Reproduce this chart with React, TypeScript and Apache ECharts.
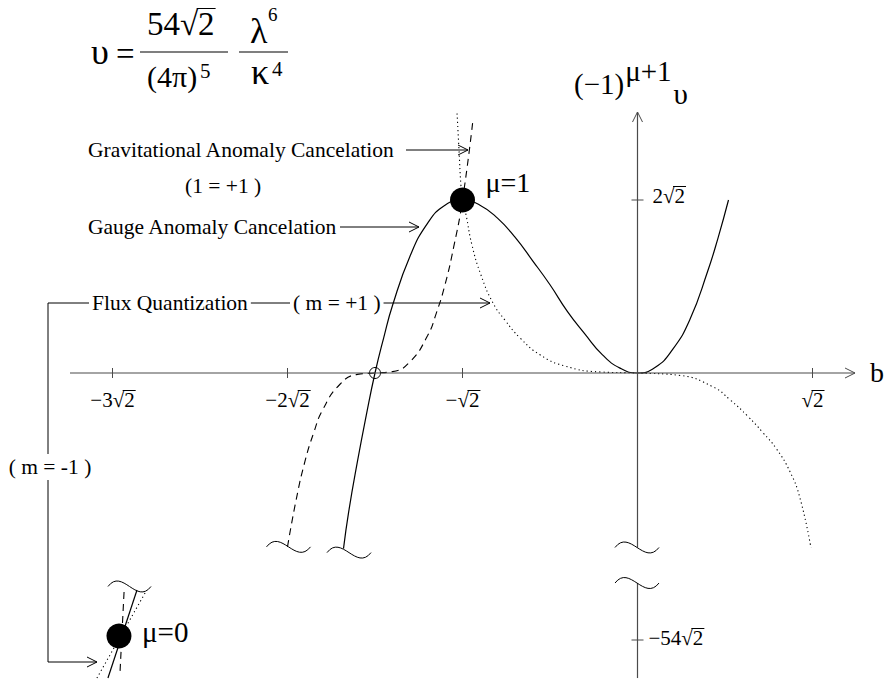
import React, { useEffect, useRef } from "react";
import * as echarts from "echarts";

// ---- data (u = b/√2, w = υ/√2) ----
const xTicks = [-3, -2, -1, 1];
const xTickLabels = ["−3√2", "−2√2", "−√2", "√2"];
const yTicks = [2];
const yTickLabels = ["2√2"];
const lowerTicks = [-54];
const lowerTickLabels = ["−54√2"];

const solidCurve = [
  [-1.68, -2.03], [-1.65, -1.6], [-1.6, -1.02], [-1.55, -0.49], [-1.5, 0], [-1.45, 0.41],
  [-1.4, 0.78], [-1.3, 1.35], [-1.2, 1.73], [-1.1, 1.94], [-1.0, 2.0], [-0.9, 1.94],
  [-0.8, 1.79], [-0.7, 1.57], [-0.6, 1.3], [-0.5, 1.02], [-0.4, 0.71], [-0.3, 0.45],
  [-0.2, 0.21], [-0.1, 0.056], [0, 0], [0.1, 0.064], [0.2, 0.27], [0.3, 0.62],
  [0.4, 1.17], [0.46, 1.56], [0.52, 2.0],
];
const dashedCurve = [
  [-2.0, -2.01], [-1.95, -1.46], [-1.9, -1.02], [-1.85, -0.69], [-1.8, -0.43], [-1.7, -0.13],
  [-1.6, -0.016], [-1.5, 0], [-1.4, 0.016], [-1.3, 0.13], [-1.2, 0.43], [-1.15, 0.69],
  [-1.1, 1.02], [-1.05, 1.46], [-1.0, 2.0], [-0.94, 2.93],
];
const dottedCurve = [
  [-1.031, 3.0], [-1.02, 2.58], [-1.009, 2.17], [-1.0, 2.0], [-0.98, 1.83], [-0.946, 1.48],
  [-0.894, 1.13], [-0.826, 0.81], [-0.757, 0.61], [-0.671, 0.405], [-0.557, 0.21],
  [-0.414, 0.08], [-0.214, 0.012], [0, 0], [0.243, -0.028], [0.431, -0.16], [0.529, -0.31],
  [0.63, -0.5], [0.717, -0.69], [0.795, -0.88], [0.871, -1.14], [0.929, -1.45], [0.991, -2.02],
];
const peakPoint = [[-1.0, 2.0]];
const nodePoint = [[-1.5, 0]];

const insetSolid = [[-2.86, -47.24], [-3.026, -59.14]];
const insetDashed = [[-2.934, -47.51], [-2.957, -58.32]];
const insetDotted = [[-2.814, -47.65], [-3.089, -59.14]];
const insetPoint = [[-2.963, -53.46]];

// axis extents (data units)
const xAxisSpan = [-3.243, 1.243];
const yAxisUpperSpan = [-2.017, 3.017];
const yAxisLowerSpan = [-59.14, -46.3];

const FONT = '"Liberation Serif", "Times New Roman", Times, serif';

// pixel frame of the two grids
const W = 886, H = 681;
const X0 = 637.5, SX = 175, Y0 = 373, SY = 86.5;
const Y0B = 640, SYB = 7.4, WB = -54;

let ctx: CanvasRenderingContext2D | null = null;
function measure(text: string, size: number) {
  if (!ctx) ctx = document.createElement("canvas").getContext("2d");
  ctx!.font = `${size}px ${FONT}`;
  return ctx!.measureText(text);
}

function txt(text: string, x: number, y: number, size: number, align = "left", extra: any = {}) {
  return {
    type: "text", x, y, z: 20,
    style: {
      text, fontSize: size, fontFamily: FONT, fill: "#000",
      align, verticalAlign: "middle", textAlign: align, textVerticalAlign: "middle", ...extra,
    },
  };
}

function ln(x1: number, y1: number, x2: number, y2: number, stroke = "#000", w = 1) {
  return { type: "line", z: 10, shape: { x1, y1, x2, y2 }, style: { stroke, lineWidth: w } };
}

function chevron(tx: number, ty: number, dir: "right" | "up", stroke = "#000") {
  const L = 10, h = 5;
  const pts = dir === "right"
    ? [[tx - L, ty - h], [tx, ty], [tx - L, ty + h]]
    : [[tx - h, ty + L], [tx, ty], [tx + h, ty + L]];
  return { type: "polyline", z: 10, shape: { points: pts }, style: { stroke, lineWidth: 1, fill: "none" } };
}

function wave(x0: number, y0: number, w = 44, h = 19) {
  return {
    type: "bezierCurve", z: 10,
    shape: { x1: x0, y1: y0, cpx1: x0 + w / 3, cpy1: y0 - h, cpx2: x0 + (2 * w) / 3, cpy2: y0 + h, x2: x0 + w, y2: y0 },
    style: { stroke: "#000", lineWidth: 1, fill: "none" },
  };
}

function radicalBar(text: string, x: number, cy: number, size: number, align = "left") {
  const full = measure(text, size).width;
  const idx = text.indexOf("√");
  const pre = measure(text.slice(0, idx + 1), size).width;
  const m = measure("√", size);
  const fm: any = measure("Hg", size);
  const asc = fm.fontBoundingBoxAscent ?? 0.891 * size;
  const desc = fm.fontBoundingBoxDescent ?? 0.216 * size;
  const base = cy + (asc - desc) / 2;
  const top = base - m.actualBoundingBoxAscent + 0.5;
  const x0 = align === "center" ? x - full / 2 : align === "right" ? x - full : x;
  return ln(x0 + pre - 1.5, top, x0 + full + 1, top, "#000", 1);
}

function radLabel(text: string, x: number, cy: number, size: number, align = "left") {
  return [txt(text, x, cy, size, align), radicalBar(text, x, cy, size, align)];
}

const lineBase = { type: "line", showSymbol: false, symbol: "none", silent: true, z: 2 };

const option: any = {
  animation: false,
  grid: [
    { left: 0, right: 0, top: 0, bottom: 0 },
    { left: 0, right: 0, top: 0, bottom: 0 },
  ],
  xAxis: [
    { type: "value", gridIndex: 0, min: -X0 / SX, max: (W - X0) / SX, show: false },
    { type: "value", gridIndex: 1, min: -X0 / SX, max: (W - X0) / SX, show: false },
  ],
  yAxis: [
    { type: "value", gridIndex: 0, min: -(H - Y0) / SY, max: Y0 / SY, show: false },
    { type: "value", gridIndex: 1, min: WB - (H - Y0B) / SYB, max: WB + Y0B / SYB, show: false },
  ],
  series: [
    { ...lineBase, name: "solid", data: solidCurve, smooth: 0.5, lineStyle: { color: "#000", width: 1.2 } },
    { ...lineBase, name: "dashed", data: dashedCurve, smooth: 0.5, lineStyle: { color: "#000", width: 1.1, type: [7, 5] } },
    { ...lineBase, name: "dotted", data: dottedCurve, smooth: 0.5, lineStyle: { color: "#000", width: 1.1, type: [1.2, 3] } },
    {
      type: "scatter", data: nodePoint, symbol: "circle", symbolSize: 11, silent: true, z: 4,
      itemStyle: { color: "rgba(0,0,0,0)", borderColor: "#000", borderWidth: 1, opacity: 1 },
    },
    { type: "scatter", data: peakPoint, symbol: "circle", symbolSize: 25, silent: true, z: 5, itemStyle: { color: "#000", opacity: 1 } },
    { ...lineBase, xAxisIndex: 1, yAxisIndex: 1, data: insetSolid, lineStyle: { color: "#000", width: 1.2 } },
    { ...lineBase, xAxisIndex: 1, yAxisIndex: 1, data: insetDashed, lineStyle: { color: "#000", width: 1.1, type: [7, 5] } },
    { ...lineBase, xAxisIndex: 1, yAxisIndex: 1, data: insetDotted, lineStyle: { color: "#000", width: 1.1, type: [1.2, 3] } },
    {
      type: "scatter", xAxisIndex: 1, yAxisIndex: 1, data: insetPoint, symbol: "circle", symbolSize: 25,
      silent: true, z: 5, itemStyle: { color: "#000", opacity: 1 },
    },
  ],
};

export default function App() {
  const ref = useRef<HTMLDivElement>(null);
  useEffect(() => {
    document.body.style.margin = "0";
    const chart = echarts.init(ref.current!, null, { renderer: "svg" });
    chart.setOption(option);
    const P = (u: number, w: number) => chart.convertToPixel({ gridIndex: 0 } as any, [u, w]) as number[];
    const Q = (u: number, w: number) => chart.convertToPixel({ gridIndex: 1 } as any, [u, w]) as number[];

    const AX = "#4a4a4a";
    const els: any[] = [];
    // x axis
    const xa = P(xAxisSpan[0], 0), xb = P(xAxisSpan[1], 0);
    els.push(ln(xa[0], xa[1], xb[0], xb[1], AX, 1.2), chevron(xb[0], xb[1], "right", AX));
    xTicks.forEach((t, i) => {
      const p = P(t, 0);
      els.push(ln(p[0], p[1] - 5, p[0], p[1] + 5, AX, 1));
      els.push(...radLabel(xTickLabels[i], p[0], p[1] + 27, 21, "center"));
    });
    els.push(txt("b", xb[0] + 15, xb[1] - 1, 28));
    // y axis upper
    const ya = P(0, yAxisUpperSpan[0]), yb = P(0, yAxisUpperSpan[1]);
    els.push(ln(ya[0], ya[1], yb[0], yb[1], AX, 1.2), chevron(yb[0], yb[1], "up", AX));
    yTicks.forEach((t, i) => {
      const p = P(0, t);
      els.push(ln(p[0] - 6, p[1], p[0] + 6, p[1], AX, 1));
      els.push(...radLabel(yTickLabels[i], p[0] + 15, p[1] - 4, 21));
    });
    // y axis lower
    const la = Q(0, yAxisLowerSpan[0]), lb = Q(0, yAxisLowerSpan[1]);
    const lx = P(0, 0)[0];
    els.push(ln(lx, la[1], lx, lb[1], AX, 1.2));
    lowerTicks.forEach((t, i) => {
      const p = Q(0, t);
      els.push(ln(lx - 6, p[1], lx + 6, p[1], AX, 1));
      els.push(...radLabel(lowerTickLabels[i], lx + 11, p[1] - 2, 21));
    });
    // breaks
    els.push(wave(lx - 22.5, ya[1]), wave(lx - 22.5, lb[1]));
    const dEnd = P(dashedCurve[0][0], dashedCurve[0][1]);
    els.push(wave(dEnd[0] - 21, dEnd[1]));
    const sEnd = P(solidCurve[0][0], solidCurve[0][1]);
    els.push(wave(sEnd[0] - 16.5, sEnd[1] + 4));
    const iTop = Q(insetSolid[0][0], insetSolid[0][1]);
    els.push(wave(iTop[0] - 29, iTop[1] - 3.5, 43));

    // y-axis title (−1)^{μ+1} υ
    els.push(txt("(−1)", 574, 84, 29));
    const wpar = measure("(−1)", 29).width;
    els.push(txt("μ+1", 574 + wpar + 1, 71, 29));
    const wmu = measure("μ+1", 29).width;
    els.push(txt("υ", 574 + wpar + wmu + 3, 94, 29));

    // formula
    els.push(txt("υ", 91, 52, 36));
    els.push(txt("=", 116, 54, 33));
    els.push(ln(140, 52, 228, 52, "#000", 1.2));
    els.push(...radLabel("54√2", 147, 24, 33));
    els.push(txt("(4π)", 147, 76, 30));
    els.push(txt("5", 200, 71, 21));
    els.push(ln(239, 52, 288, 52, "#000", 1.2));
    els.push(txt("λ", 250, 31, 36));
    els.push(txt("6", 268, 14, 19));
    els.push(txt("κ", 251, 72, 36));
    els.push(txt("4", 272, 69, 21));

    // point labels
    const pk = P(peakPoint[0][0], peakPoint[0][1]);
    els.push(txt("μ=1", pk[0] + 23, pk[1] - 18, 28));
    const ip = Q(insetPoint[0][0], insetPoint[0][1]);
    els.push(txt("μ=0", ip[0] + 23, ip[1] - 4, 29));

    // annotations
    const F = 21.5;
    const bg = { backgroundColor: "#fff", padding: [2, 3] };
    els.push(txt("Gravitational Anomaly Cancelation", 88, 150, F));
    els.push(ln(406, 150, 468, 150), chevron(468, 150, "right"));
    els.push(txt("(1 = +1 )", 185, 186, F));
    els.push(txt("Gauge Anomaly Cancelation", 88, 227, F));
    els.push(ln(340, 227, 419, 227), chevron(419, 227, "right"));
    els.push(ln(48, 303, 490, 303), chevron(490, 303, "right"));
    els.push(txt("Flux Quantization", 89, 303, F, "left", bg));
    els.push(txt("( m = +1 )", 290, 303, F, "left", bg));
    els.push(ln(48, 303, 48, 662), ln(48, 662, 97, 662), chevron(97, 662, "right"));
    els.push(txt("( m = -1 )", 50, 467, F, "center", bg));

    chart.setOption({ graphic: { elements: els } });
    return () => chart.dispose();
  }, []);
  return <div ref={ref} style={{ width: W, height: H }} />;
}
